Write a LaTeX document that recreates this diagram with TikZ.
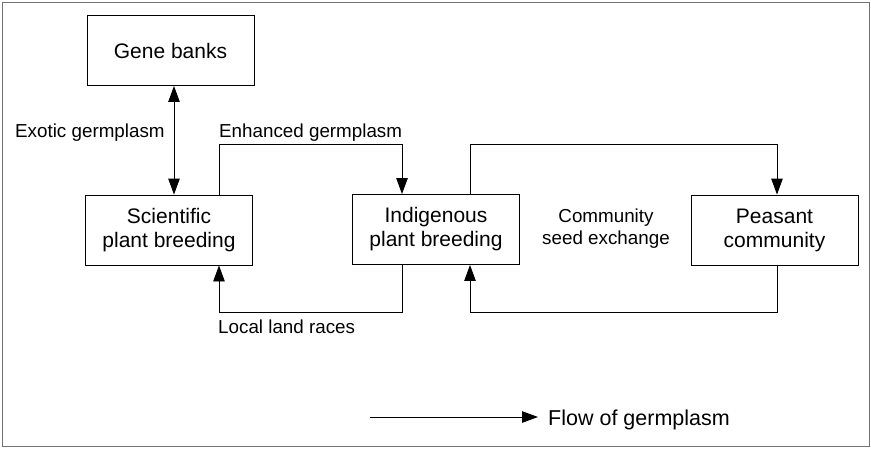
\documentclass[tikz,border=0pt]{standalone}
\usepackage{fontspec}
\setmainfont{Liberation Sans}
\usetikzlibrary{arrows.meta}
\begin{document}
\begin{tikzpicture}[x=1pt,y=-1pt,
  box/.style={draw,line width=0.9pt,inner sep=0pt,align=center,
    minimum width=167pt,minimum height=70pt,
    font=\fontsize{21}{24}\selectfont},
  lbl/.style={inner sep=0pt,font=\fontsize{18.8}{22}\selectfont},
  tip/.style={Triangle[length=16pt,width=11.5pt]},
  flow/.style={line width=0.9pt,-{Triangle[length=16pt,width=11.5pt]}},
  flowboth/.style={line width=0.9pt,{Triangle[length=16pt,width=11.5pt]}-{Triangle[length=16pt,width=11.5pt]}}]
\useasboundingbox (0,0) rectangle (871,448);
% outer frame
\draw[line width=0.7pt,black!55] (2,2) rectangle (869,446);

% boxes
\node[box] (gb)  at (170.5,50.5) {Gene banks};
\node[box] (sci) at (169,230) {Scientific\\plant breeding};
\node[box] (ind) at (436,229.5) {Indigenous\\plant breeding};
\node[box] (pea) at (774.5,230) {Peasant\\community};

% routing points
\coordinate (ex) at (174,130);
\coordinate (e1) at (219,144);
\coordinate (e2) at (402,144);
\coordinate (c1) at (470,144);
\coordinate (c2) at (777,144);
\coordinate (r1) at (777,312);
\coordinate (r2) at (470,312);
\coordinate (l1) at (402,312);
\coordinate (l2) at (219,312);

% connectors
\draw[flowboth] (gb.south -| ex) -- (sci.north -| ex);
\draw[flow] (sci.north -| e1) -- (e1) -- (e2) -- (ind.north -| e2);
\draw[flow] (ind.north -| c1) -- (c1) -- (c2) -- (pea.north -| c2);
\draw[flow] (pea.south -| r1) -- (r1) -- (r2) -- (ind.south -| r2);
\draw[flow] (ind.south -| l1) -- (l1) -- (l2) -- (sci.south -| l2);

% labels
\node[lbl,anchor=base west] (lex) at (15,137) {Exotic germplasm};
\node[lbl,anchor=base west] (len) at (219,137) {Enhanced germplasm};
\node[lbl,align=center] (lcs) at (606,229) {Community\\seed exchange};
\node[lbl,anchor=base west] (lll) at (218,333) {Local land races};

% legend
\coordinate (k1) at (370,417);
\node[inner sep=0pt,anchor=base west,font=\fontsize{21.5}{24}\selectfont] (key) at (548,425) {Flow of germplasm};
\coordinate (k2) at (538,417);
\draw[flow] (k1) -- (k2);
\end{tikzpicture}
\end{document}
